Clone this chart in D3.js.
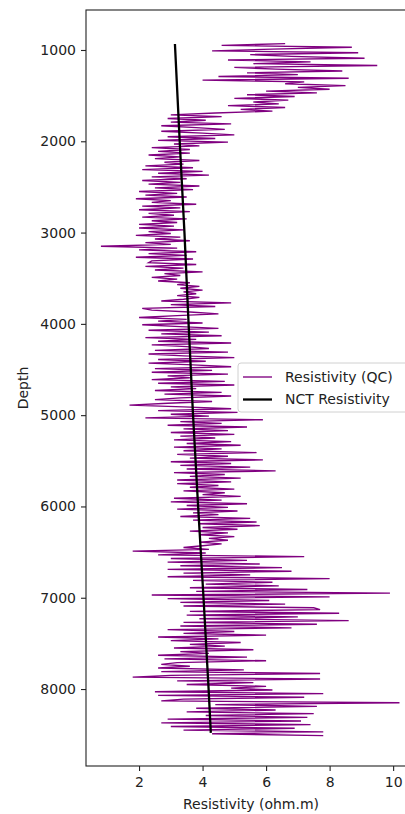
<!DOCTYPE html>
<html><head><meta charset="utf-8">
<script src="https://cdn.jsdelivr.net/npm/d3@7"></script>
<style>
html,body{margin:0;padding:0;background:#fff;overflow:hidden}
svg{display:block;font-family:"DejaVu Sans",sans-serif}
</style></head>
<body>
<svg id="chart" width="405" height="814"></svg>
<script>
// Depth samples (ft) of the QC resistivity log
const depth = [
930,950,970,990,1010,1030,1050,1070,1090,1110,1130,1150,1170,1190,1210,1230,1250,1270,1290,1310,
1330,1350,1370,1390,1410,1430,1450,1470,1490,1510,1530,1550,1570,1590,1610,1630,1650,1670,1690,1710,
1730,1750,1770,1790,1810,1830,1850,1870,1890,1910,1930,1950,1970,1990,2010,2030,2050,2070,2090,2110,
2130,2150,2170,2190,2210,2230,2250,2270,2290,2310,2330,2350,2370,2390,2410,2430,2450,2470,2490,2510,
2530,2550,2570,2590,2610,2630,2650,2670,2690,2710,2730,2750,2770,2790,2810,2830,2850,2870,2890,2910,
2930,2950,2970,2990,3010,3030,3050,3070,3090,3110,3130,3150,3170,3190,3210,3230,3250,3270,3290,3310,
3330,3350,3370,3390,3410,3430,3450,3470,3490,3510,3530,3550,3570,3590,3610,3630,3650,3670,3690,3710,
3730,3750,3770,3790,3810,3830,3850,3870,3890,3910,3930,3950,3970,3990,4010,4030,4050,4070,4090,4110,
4130,4150,4170,4190,4210,4230,4250,4270,4290,4310,4330,4350,4370,4390,4410,4430,4450,4470,4490,4510,
4530,4550,4570,4590,4610,4630,4650,4670,4690,4710,4730,4750,4770,4790,4810,4830,4850,4870,4890,4910,
4930,4950,4970,4990,5010,5030,5050,5070,5090,5110,5130,5150,5170,5190,5210,5230,5250,5270,5290,5310,
5330,5350,5370,5390,5410,5430,5450,5470,5490,5510,5530,5550,5570,5590,5610,5630,5650,5670,5690,5710,
5730,5750,5770,5790,5810,5830,5850,5870,5890,5910,5930,5950,5970,5990,6010,6030,6050,6070,6090,6110,
6130,6150,6170,6190,6210,6230,6250,6270,6290,6310,6330,6350,6370,6390,6410,6430,6450,6470,6490,6510,
6530,6550,6570,6590,6610,6630,6650,6670,6690,6710,6730,6750,6770,6790,6810,6830,6850,6870,6890,6910,
6930,6950,6970,6990,7010,7030,7050,7070,7090,7110,7130,7150,7170,7190,7210,7230,7250,7270,7290,7310,
7330,7350,7370,7390,7410,7430,7450,7470,7490,7510,7530,7550,7570,7590,7610,7630,7650,7670,7690,7710,
7730,7750,7770,7790,7810,7830,7850,7870,7890,7910,7930,7950,7970,7990,8010,8030,8050,8070,8090,8110,
8130,8150,8170,8190,8210,8230,8250,8270,8290,8310,8330,8350,8370,8390,8410,8430,8450,8470,8490,8510
];
// Resistivity (QC), ohm.m
const resistivity = [
6.6,4.6,8.7,6.2,4.3,8.9,5.5,6.8,9.1,4.8,7.4,5.6,9.5,5.0,6.3,8.4,5.4,7.0,4.5,8.6,
4.0,7.2,6.6,8.5,7.0,8.0,6.0,7.6,5.4,6.9,5.0,6.7,5.6,6.4,4.8,6.6,5.2,6.2,4.4,3.0,
4.6,2.9,4.1,3.0,4.9,2.7,3.8,4.7,2.7,4.0,5.0,2.9,4.4,2.6,4.8,3.1,3.9,2.4,3.6,2.6,
3.6,2.3,3.3,2.5,3.9,2.8,3.4,2.2,3.7,2.1,4.0,2.6,4.2,2.4,3.5,2.1,3.3,2.3,3.9,2.5,
3.7,2.0,3.2,2.2,3.5,1.9,3.0,2.4,3.8,2.1,3.3,2.0,3.6,2.3,3.1,2.1,3.5,2.4,3.2,2.0,
3.1,2.0,3.4,2.3,3.0,1.9,3.3,2.5,3.6,2.2,3.0,0.8,3.2,2.0,3.8,2.3,3.5,1.9,3.7,2.4,
2.3,3.8,2.2,3.4,2.5,4.0,2.8,3.3,2.4,3.2,2.6,3.6,3.2,3.9,3.3,4.0,3.4,3.8,3.2,3.9,
3.4,2.7,4.9,3.0,4.4,2.1,2.4,3.6,4.5,3.2,2.0,3.5,2.6,4.0,2.1,3.3,4.5,2.3,4.2,2.7,
4.6,2.2,3.8,2.6,4.9,2.4,3.5,4.2,2.5,4.8,2.3,3.4,5.0,2.6,4.1,2.3,3.7,4.9,2.5,4.3,
2.4,4.8,2.9,3.6,2.4,4.7,2.6,5.0,3.0,3.8,2.5,4.6,2.8,4.9,3.3,2.5,4.3,2.9,1.7,3.4,
4.9,2.6,5.1,3.0,4.2,2.2,5.9,3.3,4.6,2.9,5.4,3.4,4.8,3.0,5.0,3.3,4.4,3.1,4.9,3.5,
5.2,3.1,4.6,3.4,5.7,3.2,4.8,3.6,5.9,3.0,4.9,3.3,5.5,3.5,6.3,3.1,4.7,3.6,5.2,3.2,
4.9,3.2,4.5,3.6,5.0,3.4,4.7,4.0,5.2,3.1,4.6,3.0,5.4,3.5,4.8,3.2,5.1,3.7,4.5,3.3,
5.5,3.7,5.7,3.9,5.8,4.0,5.1,3.6,4.8,3.9,5.0,4.2,4.8,3.9,4.6,4.0,3.4,4.2,1.8,4.1,
2.6,7.2,3.0,5.4,2.9,5.8,3.3,6.5,2.9,6.8,3.4,5.5,2.9,8.0,3.7,6.2,4.1,6.4,3.6,7.3,
3.8,9.9,2.4,8.0,2.9,6.1,3.3,6.6,3.4,7.5,7.7,3.6,8.3,3.5,7.0,3.9,8.6,3.4,7.6,3.3,
6.8,2.9,5.0,3.4,6.0,2.6,4.5,3.0,5.2,3.6,4.7,3.1,5.6,3.3,4.2,2.6,5.4,2.8,6.0,3.2,
2.7,3.6,2.6,5.3,2.7,7.7,3.0,1.8,7.7,3.2,5.6,3.5,6.0,4.9,6.2,2.5,7.8,2.6,7.2,3.4,
2.7,10.2,4.4,7.6,3.8,6.3,3.5,7.5,4.1,7.3,2.9,7.1,2.7,7.4,3.0,6.9,3.4,7.8,4.3,7.8
];
// Normal compaction trend (NCT) resistivity
const nctDepth = [934,2000,3000,4000,5000,6000,7000,8000,8480];
const nctResistivity = [3.13,3.28,3.43,3.56,3.70,3.86,4.03,4.19,4.26];
// Axis ticks and limits
const xTicks = [2,4,6,8,10];
const yTicks = [1000,2000,3000,4000,5000,6000,7000,8000];
const xDomain = [0.33,10.72];
const depthDomain = [562,8843];
const seriesNames = ["Resistivity (QC)","NCT Resistivity"];

const svg = d3.select("#chart");
const mLeft = 86, mTop = 10, mRight = 416, mBottom = 766;
const x = d3.scaleLinear().domain(xDomain).range([mLeft, mRight]);
const y = d3.scaleLinear().domain(depthDomain).range([mTop, mBottom]);

const qc = depth.map((d,i)=>({d, v: resistivity[i]}));
const nct = nctDepth.map((d,i)=>({d, v: nctResistivity[i]}));

svg.append("defs").append("clipPath").attr("id","clip")
  .append("rect").attr("x",mLeft).attr("y",mTop).attr("width",mRight-mLeft).attr("height",mBottom-mTop);

const line = d3.line().x(p=>x(p.v)).y(p=>y(p.d));
const g = svg.append("g").attr("clip-path","url(#clip)");
g.append("path").datum(qc).attr("d",line)
  .attr("fill","none").attr("stroke","#800080").attr("stroke-width",1.35).attr("stroke-linejoin","miter");
g.append("path").datum(nct).attr("d",line)
  .attr("fill","none").attr("stroke","#000").attr("stroke-width",2.3);

// spines
svg.append("rect").attr("x",mLeft).attr("y",mTop).attr("width",mRight-mLeft).attr("height",mBottom-mTop)
  .attr("fill","none").attr("stroke","#222").attr("stroke-width",1.1);

const fs = 14;
const yAxis = svg.append("g").attr("transform",`translate(${mLeft},0)`)
  .call(d3.axisLeft(y).tickValues(yTicks).tickSize(5).tickPadding(5).tickFormat(d3.format("d")));
const xAxis = svg.append("g").attr("transform",`translate(0,${mBottom})`)
  .call(d3.axisBottom(x).tickValues(xTicks).tickSize(5).tickPadding(6).tickFormat(d3.format("d")));
[yAxis,xAxis].forEach(a=>{
  a.select(".domain").remove();
  a.selectAll("line").attr("stroke","#222").attr("stroke-width",1.1);
  a.selectAll("text").attr("font-size",fs).attr("font-family","DejaVu Sans").attr("fill","#222");
});

svg.append("text").attr("x",(mLeft+mRight)/2).attr("y",809).attr("text-anchor","middle")
  .attr("font-size",fs).attr("fill","#222").text("Resistivity (ohm.m)");
svg.append("text").attr("transform",`translate(28,${(mTop+mBottom)/2}) rotate(-90)`)
  .attr("text-anchor","middle").attr("font-size",fs).attr("fill","#222").text("Depth");

// legend
const lg = svg.append("g");
lg.append("rect").attr("x",238).attr("y",363).attr("width",190).attr("height",49)
  .attr("rx",3).attr("fill","#fff").attr("fill-opacity",0.8).attr("stroke","#d0d0d0").attr("stroke-width",1);
const lgColors = ["#800080","#000"], lgWidths = [1.35,2.3];
seriesNames.forEach((name,i)=>{
  const yy = 377 + i*22.5;
  lg.append("line").attr("x1",243).attr("x2",272).attr("y1",yy).attr("y2",yy)
    .attr("stroke",lgColors[i]).attr("stroke-width",lgWidths[i]);
  lg.append("text").attr("x",285).attr("y",yy).attr("dy","0.35em").attr("font-size",fs)
    .attr("fill","#222").text(name);
});
</script>
</body></html>
